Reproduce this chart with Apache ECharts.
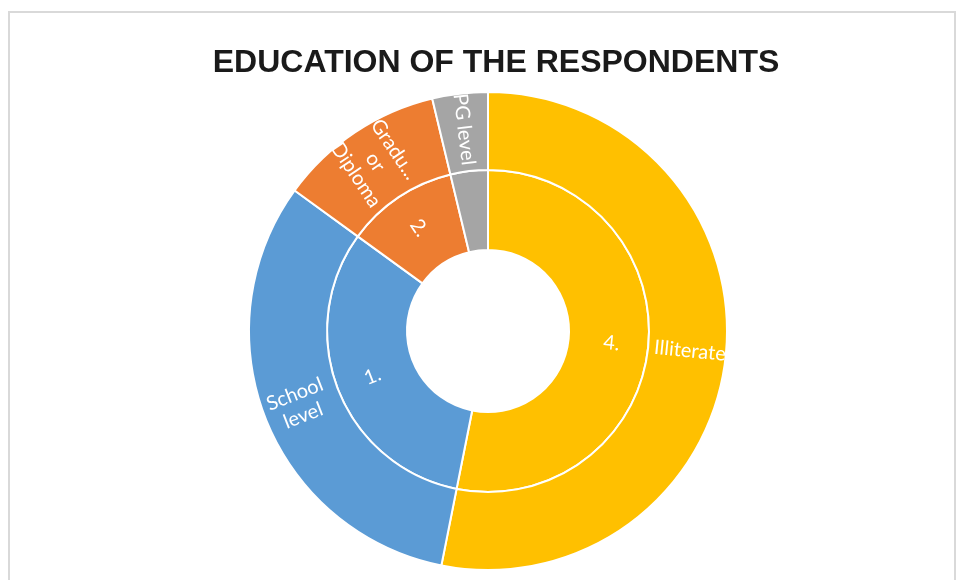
<!DOCTYPE html>
<html>
<head>
<meta charset="utf-8">
<script src="https://cdn.jsdelivr.net/npm/echarts@6/dist/echarts.min.js"></script>
<style>
  html, body { margin: 0; padding: 0; background: #ffffff; }
  #chart { width: 957px; height: 580px; }
</style>
</head>
<body>
<div id="chart"></div>
<script>
// Education level of respondents (counts), drawn clockwise from 12 o'clock
const categories  = ['Illiterate', 'School level', 'Graduate or Diploma', 'PG level'];
const counts      = [85, 51, 18, 6];
const innerLabels = ['4.', '1.', '2.', '3.'];
const outerLabels = ['Illiterate', 'School\nlevel', 'Gradu...\nor\nDiploma', 'PG level'];
const colors      = ['#FFC000', '#5B9BD5', '#ED7D31', '#A5A5A5'];
const showInner   = [true, true, true, false];

const chart = echarts.init(document.getElementById('chart'), null, { renderer: 'canvas' });

const labelStyle = {
  show: true,
  position: 'inside',
  rotate: 'radial',
  color: '#ffffff',
  fontFamily: 'Lato, "Open Sans", sans-serif',
  fontSize: 20,
  lineHeight: 23
};

function ringData(texts, showFlags) {
  return categories.map((name, i) => ({
    name: name,
    value: counts[i],
    itemStyle: { color: colors[i] },
    label: { show: showFlags ? showFlags[i] : true, formatter: texts[i] }
  }));
}

chart.setOption({
  backgroundColor: '#ffffff',
  animation: false,
  title: {
    text: 'EDUCATION OF THE RESPONDENTS',
    left: 491,
    top: 42,
    textAlign: 'center',
    textStyle: {
      fontFamily: '"Liberation Sans", Arial, sans-serif',
      fontWeight: 'bold',
      fontSize: 32,
      color: '#1a1a1a'
    }
  },
  graphic: [{
    type: 'rect',
    shape: { x: 9, y: 12, width: 946, height: 600 },
    style: { fill: 'none', stroke: '#d9d9d9', lineWidth: 2 },
    silent: true,
    z: -1
  }],
  series: [
    {
      type: 'pie',
      center: [488, 331],
      radius: [81, 161],
      startAngle: 90,
      clockwise: true,
      avoidLabelOverlap: false,
      labelLine: { show: false },
      itemStyle: { borderColor: '#ffffff', borderWidth: 2 },
      label: labelStyle,
      emphasis: { disabled: true },
      data: ringData(innerLabels, showInner)
    },
    {
      type: 'pie',
      center: [488, 331],
      radius: [161, 239],
      startAngle: 90,
      clockwise: true,
      avoidLabelOverlap: false,
      labelLine: { show: false },
      itemStyle: { borderColor: '#ffffff', borderWidth: 2 },
      label: labelStyle,
      emphasis: { disabled: true },
      data: ringData(outerLabels, null)
    }
  ]
});
</script>
</body>
</html>
